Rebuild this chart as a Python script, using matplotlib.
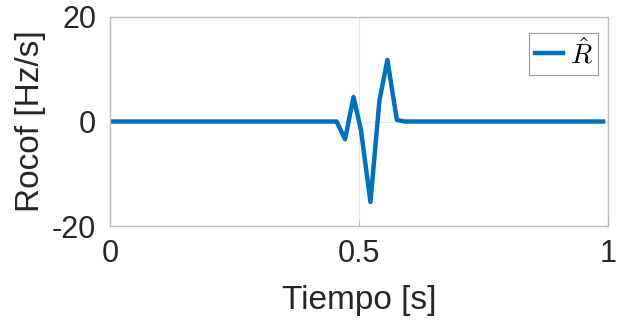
import matplotlib
matplotlib.use("Agg")
import matplotlib.pyplot as plt

# Rocof estimate vs time
tiempo = [0.0, 0.455, 0.472, 0.489, 0.504, 0.523, 0.541, 0.557, 0.576, 0.592, 0.99]
rocof = [0.0, 0.0, -3.4, 4.7, -1.7, -15.4, 4.0, 11.8, 0.3, 0.0, 0.0]

x_ticks = [0, 0.5, 1]
x_labels = ["0", "0.5", "1"]
y_ticks = [-20, 0, 20]
y_labels = ["-20", "0", "20"]

plt.rcParams["font.family"] = ["Liberation Sans", "DejaVu Sans"]
plt.rcParams["mathtext.fontset"] = "cm"

fig = plt.figure(figsize=(6.17, 3.24), dpi=100)
ax = fig.add_axes([110 / 617, 1 - 226 / 324, 498 / 617, 209 / 324])

ax.plot(tiempo, rocof, color="#0072BD", linewidth=3.2, label=r"$\hat{R}$")

ax.set_xlim(0, 1)
ax.set_ylim(-20, 20)
ax.set_xticks(x_ticks)
ax.set_xticklabels(x_labels)
ax.set_yticks(y_ticks)
ax.set_yticklabels(y_labels)
ax.tick_params(axis="x", pad=9)
ax.tick_params(axis="y", pad=10)
ax.tick_params(direction="in", length=4, labelsize=22, colors="#bdbdbd",
               labelcolor="#262626")
ax.grid(True, color="#e6e6e6", linewidth=0.8)
for s in ax.spines.values():
    s.set_color("#bdbdbd")
    s.set_linewidth(1.0)

ax.set_xlabel("Tiempo [s]", fontsize=24, color="#262626", labelpad=12)
ax.set_ylabel("Rocof [Hz/s]", fontsize=24, color="#262626", labelpad=4)

leg = ax.legend(loc="upper right", bbox_to_anchor=(0.98, 0.925), fontsize=20,
                frameon=True, fancybox=False, handlelength=1.0,
                handletextpad=0.25, borderpad=0.2, borderaxespad=0.0)
leg.get_frame().set_edgecolor("#7f7f7f")
leg.get_frame().set_linewidth(0.8)

fig.savefig("out.png", dpi=100)
